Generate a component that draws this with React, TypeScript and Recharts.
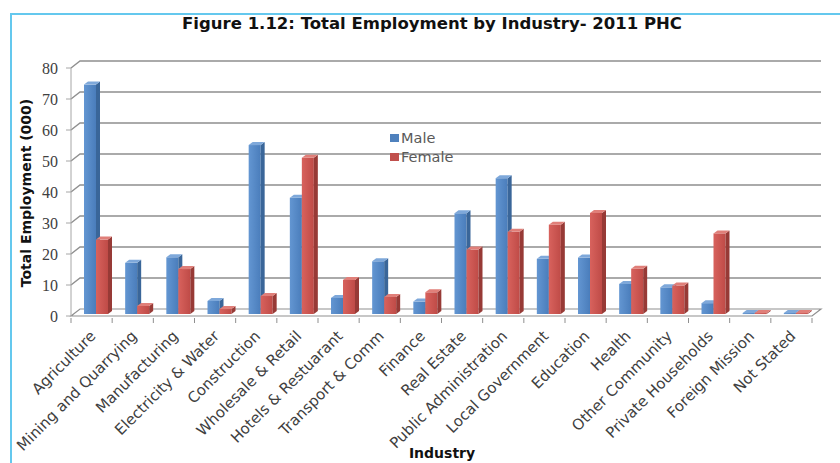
import React from "react"
import { Bar, BarChart, CartesianGrid, Legend, XAxis, YAxis } from "recharts"

const industries = [
  "Agriculture",
  "Mining and Quarrying",
  "Manufacturing",
  "Electricity & Water",
  "Construction",
  "Wholesale & Retail",
  "Hotels & Restuarant",
  "Transport & Comm",
  "Finance",
  "Real Estate",
  "Public Administration",
  "Local Government",
  "Education",
  "Health",
  "Other Community",
  "Private Households",
  "Foreign Mission",
  "Not Stated",
]

const male = [74, 16.5, 18.3, 4.2, 54.5, 37.5, 5.2, 17, 4, 32.5, 43.8, 17.8, 18.2, 9.7, 8.6, 3.5, 0.3, 0.3]
const female = [24, 2.6, 14.5, 1.6, 5.8, 50.4, 11, 5.5, 7, 20.8, 26.5, 28.8, 32.6, 14.6, 9.2, 26, 0.3, 0.3]

const yTicks = [0, 10, 20, 30, 40, 50, 60, 70, 80]

const data = industries.map((name, i) => ({ name, male: male[i], female: female[i] }))

const W = 840
const H = 463
const LEFT = 71
const RIGHT = 812
const TOP = 68
const BOTTOM = 316
const BAND = (RIGHT - LEFT) / industries.length

// back plane offset for the fake 3d walls
const DX = 9
const DY = -7

const SANS = "'DejaVu Sans', sans-serif"
const GRID = "#8f8f8f"

const male3d = { front: "url(#maleFront)", side: "#3a6699", top: "#7ea8da" }
const female3d = { front: "url(#femaleFront)", side: "#973a36", top: "#e07f79" }

function Box(props: any) {
  const { x, y, width, height, colors } = props
  if (width == null || height == null) return null
  const d = 4
  const dd = 3
  const fx = x + 4
  const fy = y - 2
  const h = Math.max(height, 1)
  return (
    <g>
      <rect x={fx} y={fy} width={width} height={h} fill={colors.front} />
      <polygon
        points={`${fx + width},${fy} ${fx + width + d},${fy - dd} ${fx + width + d},${fy + h - dd} ${fx + width},${fy + h}`}
        fill={colors.side}
      />
      <polygon
        points={`${fx},${fy} ${fx + d},${fy - dd} ${fx + width + d},${fy - dd} ${fx + width},${fy}`}
        fill={colors.top}
      />
    </g>
  )
}

function gridLine(props: any) {
  const { x1, x2, y1, index } = props
  if (Math.abs(y1 - BOTTOM) < 1) {
    return (
      <path
        key={`g-${index}`}
        d={`M${x1},${y1} L${x2},${y1} L${x2 + DX},${y1 + DY} L${x1 + DX},${y1 + DY} Z`}
        fill="none"
        stroke={GRID}
        strokeWidth={1.2}
      />
    )
  }
  return (
    <path
      key={`g-${index}`}
      d={`M${x1},${y1} L${x1 + DX},${y1 + DY} L${x2 + DX},${y1 + DY}`}
      fill="none"
      stroke={GRID}
      strokeWidth={1.4}
    />
  )
}

function IndustryTick(props: any) {
  const { x, y, payload, index } = props
  const last = index === industries.length - 1
  return (
    <g>
      <line x1={x - BAND / 2} y1={y} x2={x - BAND / 2} y2={y + 5} stroke={GRID} />
      {last && <line x1={x + BAND / 2} y1={y} x2={x + BAND / 2} y2={y + 5} stroke={GRID} />}
      <text
        x={0}
        y={0}
        transform={`translate(${x + 5},${y + 19}) rotate(-45)`}
        textAnchor="end"
        fontFamily={SANS}
        fontSize={15}
        fill="#404040"
      >
        {payload.value}
      </text>
    </g>
  )
}

function LegendBox() {
  const items = [
    { label: "Male", color: "#4f81bd" },
    { label: "Female", color: "#c0504d" },
  ]
  return (
    <div style={{ fontFamily: SANS, fontSize: 14.5, color: "#595959" }}>
      {items.map((it) => (
        <div key={it.label} style={{ display: "flex", alignItems: "center", height: 19 }}>
          <span style={{ width: 9, height: 8, background: it.color, marginRight: 2 }} />
          <span>{it.label}</span>
        </div>
      ))}
    </div>
  )
}

export default function App() {
  return (
    <div
      style={{
        position: "fixed",
        left: 0,
        top: 0,
        width: W,
        height: H,
        overflow: "hidden",
        background: "#fff",
      }}
    >
      <div
        style={{
          position: "absolute",
          left: 10,
          top: 13,
          width: 900,
          height: 600,
          border: "2px solid #64c8ee",
        }}
      />
      <div
        style={{
          position: "absolute",
          left: 0,
          width: 864,
          top: 14,
          textAlign: "center",
          fontFamily: SANS,
          fontWeight: "bold",
          fontSize: 16.5,
          color: "#111",
        }}
      >
        Figure 1.12: Total Employment by Industry- 2011 PHC
      </div>
      <div
        style={{
          position: "absolute",
          left: 26,
          top: 193,
          transform: "translate(-50%, -50%) rotate(-90deg)",
          whiteSpace: "nowrap",
          fontFamily: SANS,
          fontWeight: "bold",
          fontSize: 14,
          color: "#111",
        }}
      >
        Total Employment (000)
      </div>
      <div
        style={{
          position: "absolute",
          left: 442,
          top: 445,
          transform: "translateX(-50%)",
          fontFamily: SANS,
          fontWeight: "bold",
          fontSize: 14,
          color: "#111",
        }}
      >
        Industry
      </div>
      <BarChart
        width={W}
        height={H}
        data={data}
        margin={{ top: TOP, right: W - RIGHT, bottom: 0, left: 0 }}
        barGap={0}
        barSize={12}
        style={{ position: "absolute", left: 0, top: 0 }}
      >
        <defs>
          <linearGradient id="maleFront" x1="0" y1="0" x2="1" y2="0">
            <stop offset="0%" stopColor="#6396d2" />
            <stop offset="100%" stopColor="#4a7dbb" />
          </linearGradient>
          <linearGradient id="femaleFront" x1="0" y1="0" x2="1" y2="0">
            <stop offset="0%" stopColor="#d8625d" />
            <stop offset="100%" stopColor="#bf4b47" />
          </linearGradient>
        </defs>
        <CartesianGrid vertical={false} horizontal={gridLine} />
        <XAxis
          dataKey="name"
          interval={0}
          height={H - BOTTOM}
          axisLine={false}
          tickLine={false}
          tickSize={0}
          tick={<IndustryTick />}
        />
        <YAxis
          width={LEFT}
          domain={[0, 80]}
          ticks={yTicks}
          interval={0}
          tickSize={5}
          tickMargin={8}
          axisLine={{ stroke: "#a6a6a6" }}
          tickLine={{ stroke: "#a6a6a6" }}
          tick={{ fontFamily: "'Liberation Serif', serif", fontSize: 16, fill: "#404040" }}
        />
        <Legend
          layout="vertical"
          verticalAlign="middle"
          align="center"
          wrapperStyle={{ left: 390, top: 128, width: 80 }}
          content={() => <LegendBox />}
        />
        <Bar dataKey="male" name="Male" isAnimationActive={false} shape={(p: any) => <Box {...p} colors={male3d} />} />
        <Bar dataKey="female" name="Female" isAnimationActive={false} shape={(p: any) => <Box {...p} colors={female3d} />} />
      </BarChart>
    </div>
  )
}
